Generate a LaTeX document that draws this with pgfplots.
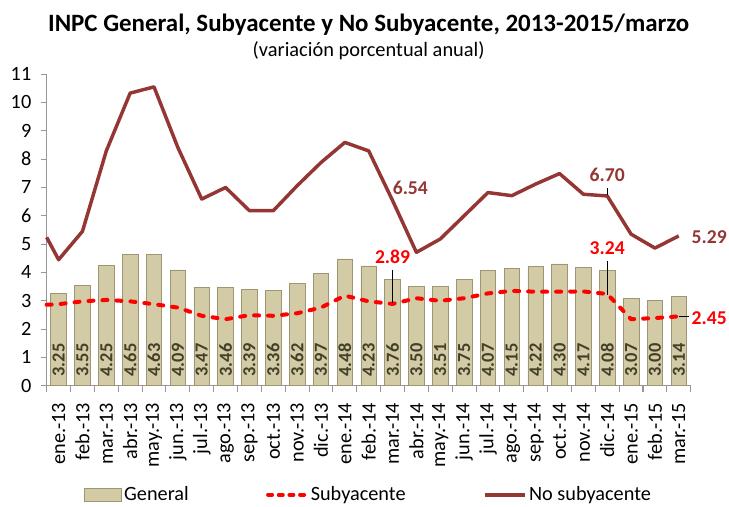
\documentclass[border=0pt]{standalone}
\usepackage{fontspec}
\setmainfont{Carlito}
\usepackage{pgfplots}
\pgfplotsset{compat=1.18}
\usepackage{pgfplotstable}

\definecolor{nosub}{RGB}{148,54,52}
\definecolor{sub}{RGB}{255,0,0}
\definecolor{barfill}{RGB}{211,203,166}
\definecolor{barline}{RGB}{158,150,114}
\definecolor{barlbl}{RGB}{66,64,40}
\definecolor{axgray}{RGB}{150,150,150}

% INPC general (barras)
\pgfplotstableread{
x gen
0 3.25
1 3.55
2 4.25
3 4.65
4 4.63
5 4.09
6 3.47
7 3.46
8 3.39
9 3.36
10 3.62
11 3.97
12 4.48
13 4.23
14 3.76
15 3.50
16 3.51
17 3.75
18 4.07
19 4.15
20 4.22
21 4.30
22 4.17
23 4.08
24 3.07
25 3.00
26 3.14
}\gen

% subyacente y no subyacente (la primera fila es el borde del eje)
\pgfplotstableread{
x sub nosub
-0.5 2.86 5.24
0 2.88 4.45
1 2.98 5.45
2 3.03 8.29
3 2.98 10.33
4 2.88 10.55
5 2.76 8.41
6 2.47 6.59
7 2.35 7.00
8 2.49 6.18
9 2.47 6.18
10 2.56 7.06
11 2.76 7.88
12 3.18 8.59
13 2.98 8.29
14 2.89 6.54
15 3.09 4.71
16 3.00 5.18
17 3.09 6.00
18 3.26 6.82
19 3.35 6.71
20 3.32 7.12
21 3.32 7.49
22 3.33 6.76
23 3.24 6.70
24 2.35 5.35
25 2.39 4.86
26 2.45 5.29
}\lines

\begin{document}
\begin{tikzpicture}
\useasboundingbox (-35pt,-90.2pt) rectangle (511.7pt,289.3pt);
\begin{axis}[scale only axis, width=483pt, height=233.7pt,
  xmin=-0.5, xmax=26.5, ymin=0, ymax=11, clip=false,
  axis x line*=bottom, axis y line*=left,
  axis line style={axgray, line width=0.8pt},
  ytick={0,...,11}, xtick={0,...,26},
  minor xtick={-0.5,0.5,...,26.5},
  major x tick style={draw=none},
  minor x tick style={axgray, line width=0.8pt},
  ytick style={axgray, line width=0.8pt},
  tick align=outside, major tick length=4.5pt, minor tick length=4.5pt,
  xticklabels={ene.-13,feb.-13,mar.-13,abr.-13,may.-13,jun.-13,jul.-13,ago.-13,sep.-13,oct.-13,nov.-13,dic.-13,
    ene.-14,feb.-14,mar.-14,abr.-14,may.-14,jun.-14,jul.-14,ago.-14,sep.-14,oct.-14,nov.-14,dic.-14,
    ene.-15,feb.-15,mar.-15},
  tick label style={font=\fontsize{15.2}{17}\selectfont},
  xticklabel style={rotate=90, anchor=east},
  xticklabel shift=5pt,
  yticklabel shift=3.5pt,
  /pgf/number format/assume math mode=true,
  legend style={at={(0.5,-0.35)}, anchor=center, draw=none, legend columns=3,
    font=\fontsize{15.2}{17}\selectfont,
    /tikz/every even column/.append style={column sep=56pt}},
]
\addplot[ybar, bar width=11.7pt, bar shift=0pt, draw=barline, line width=0.5pt, fill=barfill,
  legend image code/.code={\draw[draw=barline, line width=0.5pt, fill=barfill]
    (0pt,-4.9pt) rectangle (27.75pt,4.9pt);}]
  table[x=x, y=gen] {\gen};
\addlegendentry{General}
\addplot[draw=none, mark=none, forget plot, nodes near coords, point meta=explicit,
  /pgf/number format/.cd, fixed, fixed zerofill, precision=2, /pgfplots/.cd,
  nodes near coords style={rotate=90, anchor=west, inner sep=0pt, text=barlbl,
    font=\bfseries\fontsize{13.8}{16}\selectfont}]
  table[x=x, y expr=0.32, meta=gen] {\gen};
\addplot[sub, line width=3pt, dash pattern=on 3.75pt off 6.75pt, line cap=round,
  legend image code/.code={\draw[sub, line width=3pt, dash pattern=on 3pt off 5pt, line cap=round]
    (1.5pt,0pt) -- (30pt,0pt);}]
  table[x=x, y=sub] {\lines};
\addlegendentry{Subyacente}
\addplot[nosub, line width=2.6pt, line join=round,
  legend image code/.code={\draw[nosub, line width=2.6pt] (0pt,0pt) -- (30pt,0pt);}]
  table[x=x, y=nosub] {\lines};
\addlegendentry{No subyacente}

\node[anchor=base, font=\bfseries\fontsize{18.7}{20}\selectfont, yshift=32.25pt]
  at (rel axis cs:0.5,1) {INPC General, Subyacente y No Subyacente, 2013-2015/marzo};
\node[anchor=base, font=\fontsize{15.3}{17}\selectfont, yshift=13pt]
  at (rel axis cs:0.5,1) {(variación porcentual anual)};

\node[anchor=west, inner sep=0pt, text=nosub, font=\bfseries\fontsize{14.7}{17}\selectfont]
  at (axis cs:14,6.98) {6.54};
\node[inner sep=0pt, text=nosub, font=\bfseries\fontsize{14.7}{17}\selectfont]
  at (axis cs:23,7.44) {6.70};
\draw[black, line width=0.5pt] (axis cs:23,6.98) -- (axis cs:23,6.73);
\node[anchor=west, inner sep=0pt, xshift=9.5pt, text=nosub, font=\bfseries\fontsize{14.7}{17}\selectfont]
  at (axis cs:26,5.25) {5.29};
\node[inner sep=0pt, text=sub, font=\bfseries\fontsize{14.7}{17}\selectfont]
  at (axis cs:14,4.55) {2.89};
\draw[black, line width=0.5pt] (axis cs:14,4.09) -- (axis cs:14,2.92);
\node[inner sep=0pt, text=sub, font=\bfseries\fontsize{14.7}{17}\selectfont]
  at (axis cs:23,4.86) {3.24};
\draw[black, line width=0.5pt] (axis cs:23,4.40) -- (axis cs:23,3.2);
\node[anchor=west, inner sep=0pt, xshift=9.5pt, text=sub, font=\bfseries\fontsize{14.7}{17}\selectfont]
  at (axis cs:26,2.39) {2.45};
\draw[black, line width=0.5pt] (axis cs:26,2.45) -- ([xshift=7.5pt]axis cs:26,2.45);
\end{axis}
\end{tikzpicture}
\end{document}
